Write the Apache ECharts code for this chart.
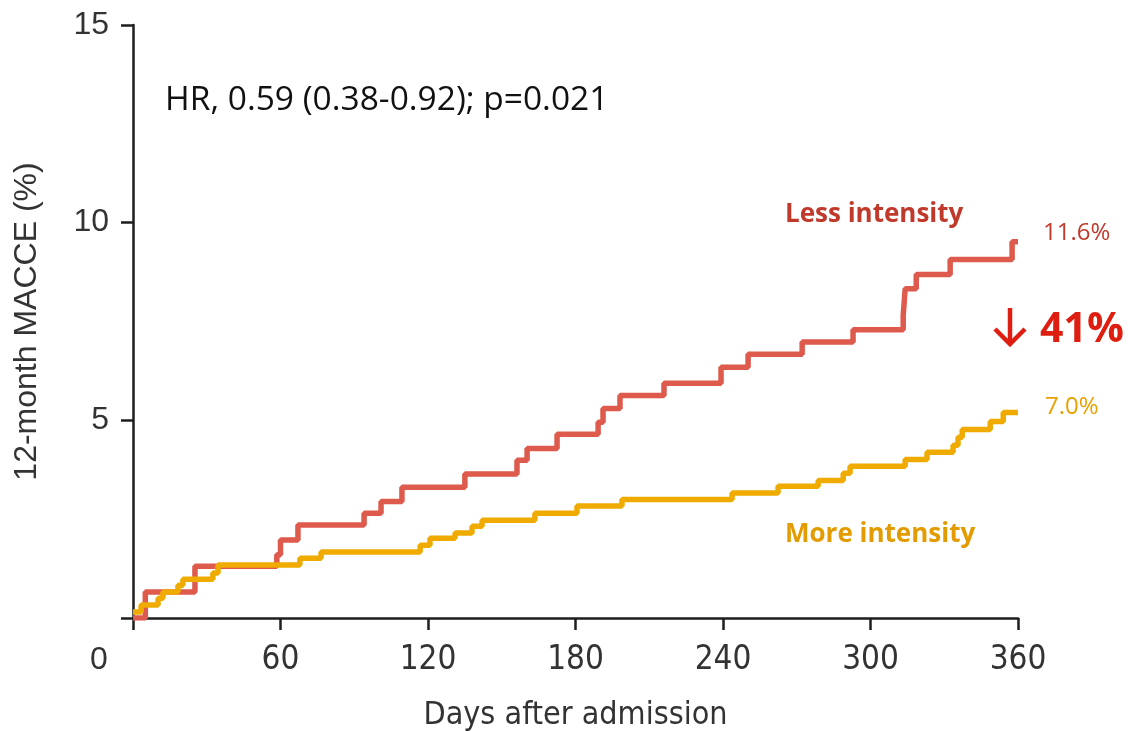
<!DOCTYPE html>
<html lang="en">
<head>
	<meta charset="UTF-8">
	<title>12-month MACCE</title>
	<style>
		*{
			margin: 0;
			padding: 0;
		}
		html,body{
			background: #fff;
		}
		.box{
			width: 1128px;
			height: 731px;
		}
	</style>
	<script src="https://cdn.jsdelivr.net/npm/echarts@6/dist/echarts.min.js"></script>
</head>
<body>
	<div class="box"></div>
	<script>
		// day of event, cumulative MACCE (%)
		var lessIntensity = [
			[0, 0], [5, 0.66], [25.2, 1.31], [58.5, 1.6], [60, 1.97], [67.1, 2.35],
			[94, 2.65], [100.9, 2.95], [109.4, 3.31], [135, 3.64], [156.2, 3.99],
			[160.3, 4.29], [172.5, 4.65], [189.2, 4.95], [191.2, 5.3], [198.1, 5.63],
			[216, 5.94], [239.2, 6.34], [250.2, 6.67], [272.2, 6.98], [292.9, 7.29],
			[313.3, 7.65], [314.1, 8.33], [318.6, 8.69], [332.4, 9.07], [357.6, 9.52],
			[360, 9.52]
		];
		var moreIntensity = [
			[0, 0.15], [3.3, 0.33], [10.2, 0.5], [12.2, 0.66], [18.3, 0.83], [20.3, 0.98],
			[32.5, 1.14], [34.6, 1.34], [67.9, 1.51], [76.5, 1.67], [116.8, 1.84],
			[120.8, 2.02], [131, 2.15], [137.9, 2.32], [142, 2.47], [163.5, 2.65],
			[180.6, 2.83], [198.9, 3.0], [243.7, 3.16], [262.4, 3.33], [278.7, 3.48],
			[288.9, 3.66], [291.7, 3.84], [314.1, 4.01], [323, 4.19], [333.6, 4.37],
			[335.6, 4.57], [337.3, 4.77], [348.7, 4.97], [354, 5.2], [360, 5.2]
		];
		var xTicks = [0, 60, 120, 180, 240, 300, 360];
		var yTicks = [0, 5, 10, 15];

		var chart = echarts.init(document.querySelector('.box'));
		var axisColor = '#1e1e1e';
		var labelFont = '"Liberation Sans", Arial, sans-serif';
		var narrowFont = '"Liberation Sans Narrow", "DejaVu Sans Condensed", Roboto, sans-serif';
		var noteFont = '"Open Sans", "Liberation Sans", sans-serif';
		var arrowRed = '#dd1e10';

		var option = {
			animation: false,
			backgroundColor: '#fff',
			grid: {
				left: 133,
				right: 110,
				top: 25,
				bottom: 113,
				outerBoundsMode: 'none'
			},
			xAxis: {
				type: 'value',
				min: xTicks[0],
				max: xTicks[xTicks.length - 1],
				interval: 60,
				name: 'Days after admission',
				nameLocation: 'middle',
				nameGap: 82,
				nameTextStyle: {
					fontFamily: narrowFont,
					fontSize: 32,
					color: '#333'
				},
				axisLine: { lineStyle: { color: axisColor, width: 2.5 } },
				axisTick: { length: 12, lineStyle: { color: axisColor, width: 2.5 } },
				axisLabel: {
					margin: 26,
					fontFamily: narrowFont,
					fontSize: 33,
					color: '#333',
					formatter: function (v) { return v === 0 ? '' : v; }
				},
				splitLine: { show: false }
			},
			yAxis: {
				type: 'value',
				min: yTicks[0],
				max: yTicks[yTicks.length - 1],
				interval: 5,
				name: '12-month MACCE (%)',
				nameLocation: 'middle',
				nameGap: 90,
				nameTextStyle: {
					fontFamily: labelFont,
					fontSize: 32,
					color: '#333'
				},
				axisLine: { show: true, lineStyle: { color: axisColor, width: 2.5 } },
				axisTick: { show: true, length: 12, lineStyle: { color: axisColor, width: 2.5 } },
				axisLabel: {
					margin: 24,
					fontFamily: labelFont,
					fontSize: 32,
					color: '#333',
					formatter: function (v) { return v === 0 ? '' : v; }
				},
				splitLine: { show: false }
			},
			series: [
				{
					name: 'Less intensity',
					type: 'line',
					step: 'end',
					symbol: 'none',
					lineStyle: { color: '#de5a4c', width: 5.5 },
					data: lessIntensity
				},
				{
					name: 'More intensity',
					type: 'line',
					step: 'end',
					symbol: 'none',
					lineStyle: { color: '#f0ab00', width: 5.5 },
					data: moreIntensity
				}
			],
			graphic: [
				{ type: 'text', left: 90, top: 644, style: { text: '0', font: '32px ' + labelFont, fill: '#333' } },
				{ type: 'text', left: 165, top: 83, style: { text: 'HR, 0.59 (0.38-0.92); p=0.021', font: '33.5px ' + noteFont, fill: '#111' } },
				{ type: 'text', left: 785, top: 202, style: { text: 'Less intensity', font: 'bold 26px ' + noteFont, fill: '#c0392b' } },
				{ type: 'text', left: 1043, top: 221, style: { text: '11.6%', font: '24px ' + noteFont, fill: '#c0392b' } },
				{
					type: 'polyline',
					shape: { points: [[1010, 308], [1010, 344]] },
					style: { stroke: arrowRed, lineWidth: 4.5, fill: null }
				},
				{
					type: 'polyline',
					shape: { points: [[995, 329], [1010, 344], [1025, 329]] },
					style: { stroke: arrowRed, lineWidth: 4.5, fill: null, lineJoin: 'miter' }
				},
				{ type: 'text', left: 1040, top: 310, style: { text: '41%', font: 'bold 41px ' + noteFont, fill: arrowRed } },
				{ type: 'text', left: 1045, top: 395, style: { text: '7.0%', font: '24px ' + noteFont, fill: '#e8a000' } },
				{ type: 'text', left: 785, top: 522, style: { text: 'More intensity', font: 'bold 26px ' + noteFont, fill: '#e39b00' } }
			]
		};
		chart.setOption(option);
	</script>
</body>
</html>
